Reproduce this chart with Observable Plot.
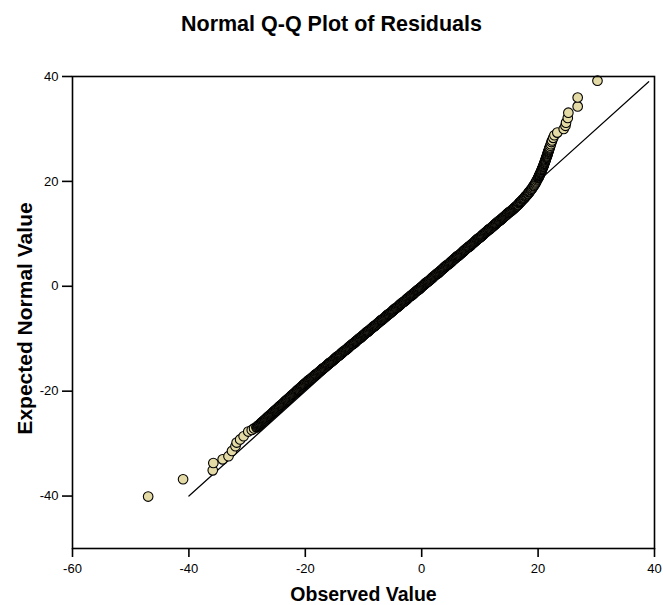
<!DOCTYPE html>
<html>
<head>
<meta charset="utf-8">
<script src="https://cdn.jsdelivr.net/npm/d3@7"></script>
<script src="https://cdn.jsdelivr.net/npm/@observablehq/plot@0.6"></script>
<style>
  html, body { margin: 0; padding: 0; background: #fff; }
  #title { width: 663px; height: 48px; line-height: 48px; text-align: center;
           font-family: "Liberation Sans", Arial, sans-serif; font-weight: bold; font-size: 21.5px; color: #000; }
</style>
</head>
<body>
<div id="title">Normal Q-Q Plot of Residuals</div>
<div id="chart"></div>
<script>
// [observed residual, expected normal value]
const lowerTail = [[-47.0,-40.1],[-41.0,-36.8],[-35.9,-35.1],[-35.8,-33.7],[-34.2,-33.0],[-33.2,-32.4],[-32.6,-31.4],[-32.0,-30.5],[-31.8,-29.8],[-31.2,-29.2],[-30.6,-28.6],[-29.8,-27.7],[-29.2,-27.4],[-28.8,-27.1]];
const lowerBody = [[-28.4,-26.9],[-28.3,-26.8],[-28.2,-26.7],[-28.1,-26.6],[-28.0,-26.5],[-27.9,-26.4],[-27.8,-26.3],[-27.7,-26.2],[-27.6,-26.1],[-27.5,-26.0],
[-27.4,-25.9],[-27.3,-25.8],[-27.2,-25.7],[-27.1,-25.6],[-27.0,-25.5],[-26.9,-25.4],[-26.8,-25.3],[-26.7,-25.2],[-26.6,-25.1],[-26.5,-25.0],
[-26.4,-24.9],[-26.3,-24.8],[-26.2,-24.7],[-26.1,-24.6],[-26.0,-24.5],[-25.9,-24.4],[-25.8,-24.3],[-25.7,-24.2],[-25.6,-24.1],[-25.5,-24.0],
[-25.4,-23.9],[-25.3,-23.8],[-25.2,-23.7],[-25.1,-23.6],[-25.0,-23.5],[-24.9,-23.4],[-24.8,-23.3],[-24.7,-23.2],[-24.6,-23.1],[-24.5,-23.0],
[-24.4,-22.9],[-24.3,-22.8],[-24.2,-22.7],[-24.1,-22.6],[-24.0,-22.5],[-23.9,-22.4],[-23.8,-22.3],[-23.7,-22.2],[-23.6,-22.1],[-23.5,-22.0],
[-23.4,-21.9],[-23.3,-21.8],[-23.2,-21.7],[-23.1,-21.6],[-23.0,-21.5],[-22.9,-21.4],[-22.8,-21.3],[-22.7,-21.2],[-22.6,-21.1],[-22.5,-21.0],
[-22.4,-20.9],[-22.3,-20.8],[-22.2,-20.7],[-22.1,-20.6],[-22.0,-20.5],[-21.9,-20.4],[-21.8,-20.3],[-21.7,-20.2],[-21.6,-20.1],[-21.5,-20.0],
[-21.4,-19.9],[-21.3,-19.8],[-21.2,-19.7],[-21.1,-19.6],[-21.0,-19.5],[-20.9,-19.4],[-20.8,-19.3],[-20.7,-19.2],[-20.6,-19.1],[-20.5,-19.0],
[-20.4,-18.9],[-20.3,-18.8],[-20.2,-18.7],[-20.1,-18.6],
[-20.0,-18.5],[-19.9,-18.4],[-19.8,-18.3],[-19.7,-18.2],[-19.6,-18.1],[-19.5,-18.0],[-19.4,-17.9],[-19.3,-17.9],[-19.2,-17.8],[-19.1,-17.7],
[-19.0,-17.6],[-18.9,-17.5],[-18.8,-17.4],[-18.7,-17.3],[-18.6,-17.2],[-18.5,-17.1],[-18.4,-17.0],[-18.3,-16.9],[-18.2,-16.8],[-18.1,-16.8],
[-18.0,-16.7],[-17.9,-16.6],[-17.8,-16.5],[-17.7,-16.4],[-17.6,-16.3],[-17.5,-16.2],[-17.4,-16.1],[-17.3,-16.0],[-17.2,-15.9],[-17.1,-15.8],
[-17.0,-15.7],[-16.9,-15.6],[-16.8,-15.6],[-16.7,-15.5],[-16.6,-15.4],[-16.5,-15.3],[-16.4,-15.2],[-16.3,-15.1],[-16.2,-15.0],[-16.1,-14.9],
[-16.0,-14.8],[-15.9,-14.7],[-15.8,-14.6],[-15.7,-14.5],[-15.6,-14.5],[-15.5,-14.4],[-15.4,-14.3],[-15.3,-14.2],[-15.2,-14.1],[-15.1,-14.0],
[-15.0,-13.9],[-14.9,-13.8],[-14.8,-13.7],[-14.7,-13.6],[-14.6,-13.5],[-14.5,-13.4],[-14.4,-13.3],[-14.3,-13.3],[-14.2,-13.2],[-14.1,-13.1],
[-14.0,-13.0],[-13.9,-12.9],[-13.8,-12.8],[-13.7,-12.7],[-13.6,-12.6],[-13.5,-12.5],[-13.4,-12.4],[-13.3,-12.3],[-13.2,-12.2],[-13.1,-12.2],
[-13.0,-12.1],[-12.9,-12.0],[-12.8,-11.9],[-12.7,-11.8],[-12.6,-11.7],[-12.5,-11.6],[-12.4,-11.5],[-12.3,-11.4],[-12.2,-11.3],[-12.1,-11.2],
[-12.0,-11.1],[-11.9,-11.0],[-11.8,-11.0],[-11.7,-10.9],[-11.6,-10.8],[-11.5,-10.7],[-11.4,-10.6],[-11.3,-10.5],[-11.2,-10.4],[-11.1,-10.3],
[-11.0,-10.2],[-10.9,-10.1],[-10.8,-10.0],[-10.7,-9.9],[-10.6,-9.9],[-10.5,-9.8],[-10.4,-9.7],[-10.3,-9.6],[-10.2,-9.5],[-10.1,-9.4]];
const middleBody = [[-10.0,-9.3],[-9.9,-9.2],[-9.8,-9.1],[-9.7,-9.0],[-9.6,-8.9],[-9.5,-8.8],[-9.4,-8.7],[-9.3,-8.7],[-9.2,-8.6],[-9.1,-8.5],
[-9.0,-8.4],[-8.9,-8.3],[-8.8,-8.2],[-8.7,-8.1],[-8.6,-8.0],[-8.5,-7.9],[-8.4,-7.8],[-8.3,-7.7],[-8.2,-7.6],[-8.1,-7.6],
[-8.0,-7.5],[-7.9,-7.4],[-7.8,-7.3],[-7.7,-7.2],[-7.6,-7.1],[-7.5,-7.0],[-7.4,-6.9],[-7.3,-6.8],[-7.2,-6.7],[-7.1,-6.6],
[-7.0,-6.5],[-6.9,-6.4],[-6.8,-6.4],[-6.7,-6.3],[-6.6,-6.2],[-6.5,-6.1],[-6.4,-6.0],[-6.3,-5.9],[-6.2,-5.8],[-6.1,-5.7],
[-6.0,-5.6],[-5.9,-5.5],[-5.8,-5.4],[-5.7,-5.3],[-5.6,-5.3],[-5.5,-5.2],[-5.4,-5.1],[-5.3,-5.0],[-5.2,-4.9],[-5.1,-4.8],
[-5.0,-4.7],[-4.9,-4.6],[-4.8,-4.5],[-4.7,-4.4],[-4.6,-4.3],[-4.5,-4.2],[-4.4,-4.1],[-4.3,-4.1],[-4.2,-4.0],[-4.1,-3.9],
[-4.0,-3.8],[-3.9,-3.7],[-3.8,-3.6],[-3.7,-3.5],[-3.6,-3.4],[-3.5,-3.3],[-3.4,-3.2],[-3.3,-3.1],[-3.2,-3.0],[-3.1,-3.0],
[-3.0,-2.9],[-2.9,-2.8],[-2.8,-2.7],[-2.7,-2.6],[-2.6,-2.5],[-2.5,-2.4],[-2.4,-2.3],[-2.3,-2.2],[-2.2,-2.1],[-2.1,-2.0],
[-2.0,-1.9],[-1.9,-1.8],[-1.8,-1.8],[-1.7,-1.7],[-1.6,-1.6],[-1.5,-1.5],[-1.4,-1.4],[-1.3,-1.3],[-1.2,-1.2],[-1.1,-1.1],
[-1.0,-1.0],[-0.9,-0.9],[-0.8,-0.8],[-0.7,-0.7],[-0.6,-0.7],[-0.5,-0.6],[-0.4,-0.5],[-0.3,-0.4],[-0.2,-0.3],[-0.1,-0.2],
[0.0,-0.1],[0.1,0.0],[0.2,0.1],[0.3,0.2],[0.4,0.3],[0.5,0.4],[0.6,0.5],[0.7,0.6],[0.8,0.7],[0.9,0.8],
[1.0,0.8],[1.1,0.9],[1.2,1.0],[1.3,1.1],[1.4,1.2],[1.5,1.3],[1.6,1.4],[1.7,1.5],[1.8,1.6],[1.9,1.7],
[2.0,1.8],[2.1,1.9],[2.2,2.0],[2.3,2.1],[2.4,2.2],[2.5,2.3],[2.6,2.4],[2.7,2.4],[2.8,2.5],[2.9,2.6],
[3.0,2.7],[3.1,2.8],[3.2,2.9],[3.3,3.0],[3.4,3.1],[3.5,3.2],[3.6,3.3],[3.7,3.4],[3.8,3.5],[3.9,3.6],
[4.0,3.7],[4.1,3.8],[4.2,3.9],[4.3,4.0],[4.4,4.1],[4.5,4.1],[4.6,4.2],[4.7,4.3],[4.8,4.4],[4.9,4.5],
[5.0,4.6],[5.1,4.7],[5.2,4.8],[5.3,4.9],[5.4,5.0],[5.5,5.1],[5.6,5.2],[5.7,5.3],[5.8,5.4],[5.9,5.5],
[6.0,5.6],[6.1,5.7],[6.2,5.8],[6.3,5.8],[6.4,5.9],[6.5,6.0],[6.6,6.1],[6.7,6.2],[6.8,6.3],[6.9,6.4],
[7.0,6.5],[7.1,6.6],[7.2,6.7],[7.3,6.8],[7.4,6.9],[7.5,7.0],[7.6,7.1],[7.7,7.2],[7.8,7.3],[7.9,7.4],
[8.0,7.5],[8.1,7.5],[8.2,7.6],[8.3,7.7],[8.4,7.8],[8.5,7.9],[8.6,8.0],[8.7,8.1],[8.8,8.2],[8.9,8.3],
[9.0,8.4],[9.1,8.5],[9.2,8.6],[9.3,8.7],[9.4,8.8],[9.5,8.9],[9.6,9.0],[9.7,9.1],[9.8,9.2],[9.9,9.2]];
const upperBody = [[10.0,9.3],[10.1,9.4],[10.2,9.5],[10.3,9.6],[10.4,9.7],[10.5,9.8],[10.6,9.9],[10.7,10.0],[10.8,10.1],[10.9,10.2],
[11.0,10.3],[11.1,10.4],[11.2,10.5],[11.3,10.6],[11.4,10.7],[11.5,10.8],[11.6,10.9],[11.7,10.9],[11.8,11.0],[11.9,11.1],
[12.0,11.2],[12.1,11.3],[12.2,11.4],[12.3,11.5],[12.4,11.6],[12.5,11.7],[12.6,11.8],[12.7,11.9],[12.8,12.0],[12.9,12.1],
[13.0,12.2],[13.1,12.3],[13.2,12.4],[13.3,12.5],[13.4,12.5],[13.5,12.6],[13.6,12.7],[13.7,12.8],[13.8,12.9],[13.9,13.0],
[14.0,13.1],[14.1,13.2],[14.2,13.3],[14.3,13.4],[14.4,13.5],[14.5,13.6],[14.6,13.7],[14.7,13.8],[14.8,13.9],[14.9,14.0],
[15.0,14.1],[15.1,14.2],[15.2,14.2],[15.3,14.3],[15.4,14.4],[15.5,14.5],[15.6,14.6],[15.7,14.7],[15.8,14.8],[15.9,14.9],
[16.0,15.0],[16.1,15.1],[16.2,15.2],[16.3,15.3],[16.4,15.4],[16.5,15.5],[16.6,15.6],[16.7,15.8],[16.8,15.9],[16.9,16.0],
[17.0,16.1],[17.1,16.2],[17.2,16.3],[17.3,16.5],[17.4,16.6],[17.5,16.7],[17.6,16.8],[17.7,16.9],[17.8,17.1],[17.9,17.2],
[18.0,17.3],[18.1,17.4],[18.2,17.6],[18.3,17.7],[18.4,17.9],[18.5,18.0],[18.6,18.1],[18.7,18.3],[18.8,18.4],[18.9,18.6],
[19.0,18.7],[19.1,18.9],[19.2,19.1],[19.3,19.2],[19.4,19.4],[19.5,19.6],[19.6,19.8],[19.7,20.0],[19.8,20.2],[19.9,20.4],
[20.0,20.6],[20.05,20.7],[20.1,20.85],[20.15,21.0],[20.2,21.1],[20.25,21.2],[20.3,21.3],[20.35,21.45],[20.4,21.6],[20.45,21.7],
[20.5,21.8],[20.55,21.95],[20.6,22.1],[20.65,22.2],[20.7,22.35],[20.75,22.5],[20.8,22.65],[20.85,22.8],[20.9,22.9],[20.95,23.05],
[21.0,23.2],[21.05,23.35],[21.1,23.5],[21.15,23.7],[21.2,23.85],[21.25,24.0],[21.3,24.15],[21.35,24.3],[21.4,24.5],[21.45,24.65],
[21.5,24.8],[21.55,24.95],[21.6,25.15],[21.65,25.3],[21.7,25.5],[21.75,25.65],[21.8,25.8],[21.85,26.0],[21.9,26.15],[21.95,26.3],
[22.0,26.5],[22.1,26.8],[22.2,27.1],[22.3,27.5],[22.4,27.8],[22.6,28.3],[22.8,28.8]];
const upperTail = [[23.3,29.3],[24.4,30.0],[24.7,30.6],[24.8,31.2],[25.1,32.1],[25.2,33.1],[26.8,34.3],[26.8,36.0],[30.2,39.2]];

const referenceLine = [-40, 39];
const xTicks = [-60, -40, -20, 0, 20, 40];
const yTicks = [-40, -20, 0, 20, 40];
const xTitle = "Observed Value";
const yTitle = "Expected Normal Value";

const points = [...lowerTail, ...lowerBody, ...middleBody, ...upperBody, ...upperTail]
  .map(([observed, expected]) => ({observed, expected}));
const line = referenceLine.map(v => ({observed: v, expected: v}));

const chart = Plot.plot({
  width: 663,
  height: 557,
  marginTop: 28,
  marginBottom: 57,
  marginLeft: 72,
  marginRight: 9,
  style: {fontFamily: "'Liberation Sans', Arial, sans-serif", fontSize: "13px", color: "#000", background: "#fff"},
  x: {domain: [-60, 40]},
  y: {domain: [-50, 40]},
  marks: [
    Plot.line(line, {x: "observed", y: "expected", stroke: "#000", strokeWidth: 1.2}),
    Plot.dot(points, {x: "observed", y: "expected", r: 4.8, fill: "#e3daa5", stroke: "#000", strokeWidth: 1.1}),
    Plot.frame({stroke: "#000", strokeWidth: 1.6}),
    Plot.axisX({ticks: xTicks, tickSize: 9, tickPadding: 6, strokeWidth: 1.6, label: null, tickFormat: d => String(d)}),
    Plot.axisY({ticks: yTicks, tickSize: 10, tickPadding: 4, strokeWidth: 1.6, label: null, tickFormat: d => String(d)}),
    Plot.text([xTitle], {frameAnchor: "bottom", dy: 46, lineAnchor: "middle", textAnchor: "middle", fontWeight: "bold", fontSize: 19.5, fill: "#000"}),
    Plot.text([yTitle], {frameAnchor: "left", dx: -47, dy: 6, rotate: -90, lineAnchor: "middle", textAnchor: "middle", fontWeight: "bold", fontSize: 21, fill: "#000"})
  ]
});
document.getElementById("chart").appendChild(chart);
</script>
</body>
</html>
